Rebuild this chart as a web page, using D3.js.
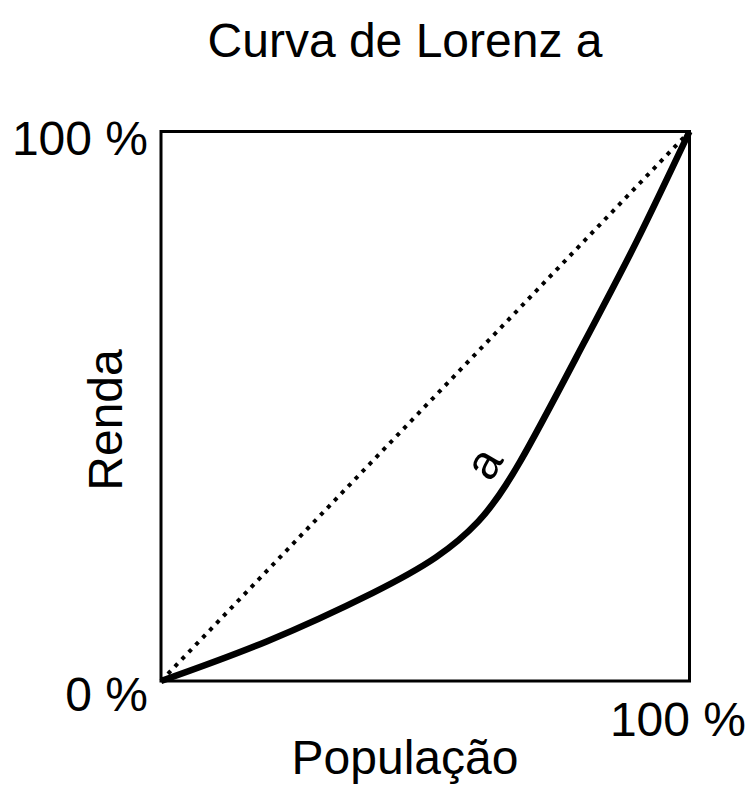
<!DOCTYPE html>
<html>
<head>
<meta charset="utf-8">
<script src="https://cdn.jsdelivr.net/npm/d3@7"></script>
<style>
  body { margin: 0; background: #fff; }
  text { font-family: "Liberation Sans", Arial, sans-serif; fill: #000; }
</style>
</head>
<body>
<div id="chart"></div>
<script>
// population share (x) vs income share (y), both 0..1
var popShare = [0, 0.2, 0.4, 0.52, 0.6, 0.68, 0.8, 0.9, 1];
var incomeShare = [0, 0.072, 0.16, 0.225, 0.29, 0.4, 0.615, 0.8, 1];
var equality = [[0, 0], [1, 1]];
var tickLabels = ["0 %", "100 %"];

var width = 750, height = 785;
var margin = { top: 131.5, right: 60.5, bottom: 104, left: 161 };

var svg = d3.select("#chart").append("svg")
    .attr("width", width)
    .attr("height", height);

var x = d3.scaleLinear().domain([0, 1]).range([margin.left, width - margin.right]);
var y = d3.scaleLinear().domain([0, 1]).range([height - margin.bottom, margin.top]);

var curve = popShare.map(function (d, i) { return [d, incomeShare[i]]; });

var line = d3.line()
    .x(function (d) { return x(d[0]); })
    .y(function (d) { return y(d[1]); });

// equality line
svg.append("path")
    .datum(equality)
    .attr("d", line)
    .attr("fill", "none")
    .attr("stroke", "#000")
    .attr("stroke-width", 4)
    .attr("stroke-dasharray", "4,6");

// lorenz curve
svg.append("path")
    .datum(curve)
    .attr("d", line.curve(d3.curveNatural))
    .attr("fill", "none")
    .attr("stroke", "#000")
    .attr("stroke-width", 6.5)
    .attr("stroke-linejoin", "round");

// frame
svg.append("rect")
    .attr("x", x(0))
    .attr("y", y(1))
    .attr("width", x(1) - x(0))
    .attr("height", y(0) - y(1))
    .attr("fill", "none")
    .attr("stroke", "#000")
    .attr("stroke-width", 3);

svg.append("text")
    .attr("x", 405)
    .attr("y", 57)
    .attr("text-anchor", "middle")
    .style("font-size", "48px")
    .text("Curva de Lorenz a");

svg.append("text")
    .attr("x", 148)
    .attr("y", 155)
    .attr("text-anchor", "end")
    .style("font-size", "48px")
    .text(tickLabels[1]);

svg.append("text")
    .attr("x", 148)
    .attr("y", 711)
    .attr("text-anchor", "end")
    .style("font-size", "48px")
    .text(tickLabels[0]);

svg.append("text")
    .attr("x", 746)
    .attr("y", 736)
    .attr("text-anchor", "end")
    .style("font-size", "48px")
    .text(tickLabels[1]);

svg.append("text")
    .attr("x", 405)
    .attr("y", 774)
    .attr("text-anchor", "middle")
    .style("font-size", "48px")
    .text("População");

svg.append("text")
    .attr("transform", "translate(122,420) rotate(-90)")
    .attr("text-anchor", "middle")
    .style("font-size", "48px")
    .text("Renda");

svg.append("text")
    .attr("transform", "translate(483,463) rotate(-60)")
    .attr("text-anchor", "middle")
    .attr("dy", "0.35em")
    .style("font-size", "48px")
    .text("a");
</script>
</body>
</html>
